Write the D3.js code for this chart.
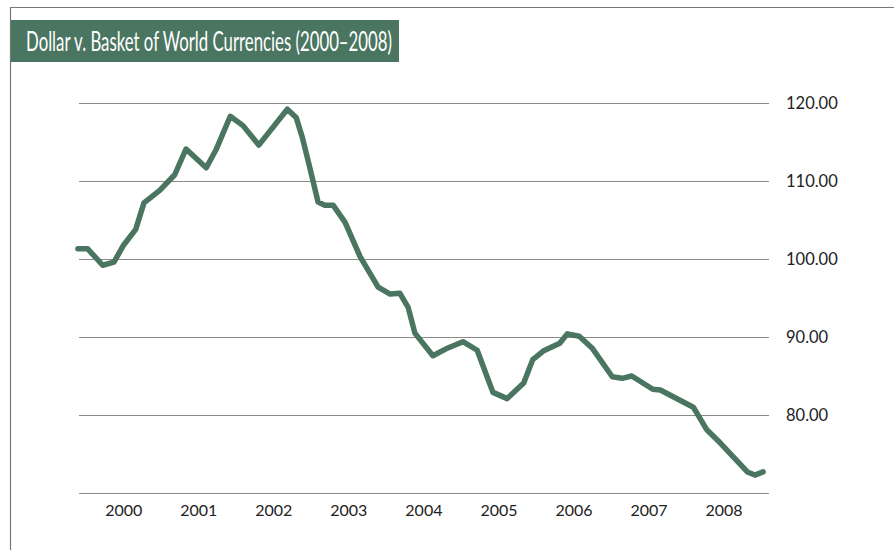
<!DOCTYPE html>
<html>
<head>
<meta charset="utf-8">
<script src="https://cdn.jsdelivr.net/npm/d3@7"></script>
<style>
  body { margin: 0; background: #fff; }
</style>
</head>
<body>
<div id="chart"></div>
<script>
// decimal year of each vertex, and the index value there
const years = [
  1999.39, 1999.52, 1999.72, 1999.87, 2000.0, 2000.16, 2000.27, 2000.48, 2000.68, 2000.83,
  2001.1, 2001.23, 2001.42, 2001.59, 2001.8, 2002.18, 2002.3, 2002.38, 2002.47, 2002.59,
  2002.68, 2002.79, 2002.95, 2003.15, 2003.39, 2003.55, 2003.68, 2003.79, 2003.88, 2004.12,
  2004.32, 2004.52, 2004.71, 2004.92, 2005.11, 2005.33, 2005.45, 2005.59, 2005.81, 2005.91,
  2006.07, 2006.24, 2006.51, 2006.64, 2006.77, 2007.05, 2007.15, 2007.59, 2007.77, 2007.95,
  2008.31, 2008.41, 2008.52
]
const values = [
  101.3, 101.3, 99.2, 99.6, 101.8, 103.8, 107.2, 108.8, 110.8, 114.1,
  111.7, 114.0, 118.3, 117.1, 114.6, 119.2, 118.1, 115.6, 112.1, 107.3,
  106.9, 106.9, 104.7, 100.3, 96.4, 95.5, 95.6, 93.8, 90.5, 87.6,
  88.6, 89.4, 88.3, 82.9, 82.1, 84.1, 87.1, 88.2, 89.2, 90.4,
  90.1, 88.6, 84.9, 84.7, 85.0, 83.3, 83.2, 81.0, 78.1, 76.4,
  72.7, 72.3, 72.7
]
const yearLabels = [2000, 2001, 2002, 2003, 2004, 2005, 2006, 2007, 2008]
const yTicks = [80, 90, 100, 110, 120]
const title = "Dollar v. Basket of World Currencies (2000\u20132008)"

const width = 894, height = 550
const green = "#4a7560"
const grid = "#8a8a8a"
const font = "Lato, 'Open Sans', sans-serif"

const data = years.map((t, i) => ({ t, v: values[i] }))

const svg = d3.select("#chart")
  .append("svg")
  .attr("width", width)
  .attr("height", height)
  .attr("viewBox", [0, 0, width, height])

// frame lines top and left
svg.append("path")
  .attr("d", `M10.5,${height} V7.5 H${width}`)
  .attr("fill", "none")
  .attr("stroke", "#777")
  .attr("stroke-width", 1.2)

// title band
svg.append("rect")
  .attr("x", 11).attr("y", 20)
  .attr("width", 388).attr("height", 42)
  .attr("fill", green)

svg.append("text")
  .attr("x", 26).attr("y", 51)
  .attr("fill", "#fff")
  .attr("font-family", font)
  .attr("font-size", 26)
  .attr("textLength", 366)
  .attr("lengthAdjust", "spacingAndGlyphs")
  .text(title)

const x = d3.scaleLinear()
  .domain([2000, 2008])
  .range([123.7, 724.1])

const y = d3.scaleLinear()
  .domain([70, 120])
  .range([493, 103])

// gridlines
svg.append("g")
  .selectAll("line")
  .data(yTicks.concat([70]))
  .join("line")
  .attr("x1", 79).attr("x2", 769)
  .attr("y1", d => Math.round(y(d)) + 0.5)
  .attr("y2", d => Math.round(y(d)) + 0.5)
  .attr("stroke", grid)
  .attr("stroke-width", 1.2)

// right value labels
svg.append("g")
  .selectAll("text")
  .data(yTicks)
  .join("text")
  .attr("x", 786)
  .attr("y", d => y(d))
  .attr("dy", "0.35em")
  .attr("font-family", font)
  .attr("font-size", 16.5)
  .attr("fill", "#222")
  .text(d => d3.format(".2f")(d))

// year labels
svg.append("g")
  .selectAll("text")
  .data(yearLabels)
  .join("text")
  .attr("x", d => x(d))
  .attr("y", 510.5)
  .attr("dy", "0.35em")
  .attr("text-anchor", "middle")
  .attr("font-family", font)
  .attr("font-size", 16)
  .attr("fill", "#222")
  .text(d => d)

const line = d3.line()
  .x(d => x(d.t))
  .y(d => y(d.v))

svg.append("path")
  .datum(data)
  .attr("d", line)
  .attr("fill", "none")
  .attr("stroke", green)
  .attr("stroke-width", 5.5)
  .attr("stroke-linejoin", "round")
  .attr("stroke-linecap", "round")
</script>
</body>
</html>
